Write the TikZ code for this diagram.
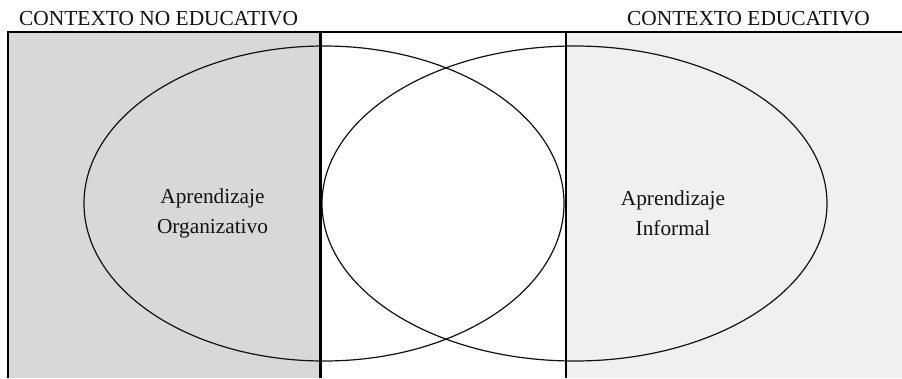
\documentclass[tikz,border=0pt]{standalone}
\usepackage{fontspec}
\setmainfont{Liberation Serif}
\usetikzlibrary{shapes.geometric}
\definecolor{leftgray}{HTML}{D8D8D8}
\definecolor{rightgray}{HTML}{F0F0F0}
\definecolor{inkc}{HTML}{111111}
\tikzset{
  frameline/.style={draw=black, line width=2.6pt},
  ovalshape/.style={ellipse, draw=inkc, line width=1.2pt, inner sep=0pt, outer sep=0pt, fill=none},
  headtext/.style={font=\fontsize{21.4}{26}\selectfont, text=inkc, anchor=base west, inner sep=0pt},
  labeltext/.style={font=\fontsize{21.3}{30}\selectfont, text=inkc, align=center, inner sep=0pt}
}
\begin{document}
\begin{tikzpicture}[x=1pt,y=-1pt]
\useasboundingbox (0,0) rectangle (902,378);
\fill[white] (0,0) rectangle (902,378);
\fill[leftgray] (8,32) rectangle (320.5,378);
\fill[rightgray] (566,32) rectangle (902,378);
\node[ovalshape, minimum width=480pt, minimum height=315pt] (leftoval) at (324,203.5) {};
\node[ovalshape, minimum width=505pt, minimum height=315pt] (rightoval) at (574.5,203.5) {};
\coordinate (bl) at (8,378);
\coordinate (tl) at (8,32);
\coordinate (tr) at (902,32);
\coordinate (d1t) at (320.5,32);
\coordinate (d1b) at (320.5,378);
\coordinate (d2t) at (566,32);
\coordinate (d2b) at (566,378);
\draw[frameline] (bl) -- (tl) -- (tr);
\draw[frameline] (d1t) -- (d1b);
\draw[frameline] (d2t) -- (d2b);
\node[headtext] (hleft) at (19,25) {CONTEXTO NO EDUCATIVO};
\node[headtext] (hright) at (627,25) {CONTEXTO EDUCATIVO};
\node[labeltext] (lorg) at (212.5,213) {Aprendizaje\\Organizativo};
\node[labeltext] (linf) at (673,213) {Aprendizaje\\Informal};
\end{tikzpicture}
\end{document}
